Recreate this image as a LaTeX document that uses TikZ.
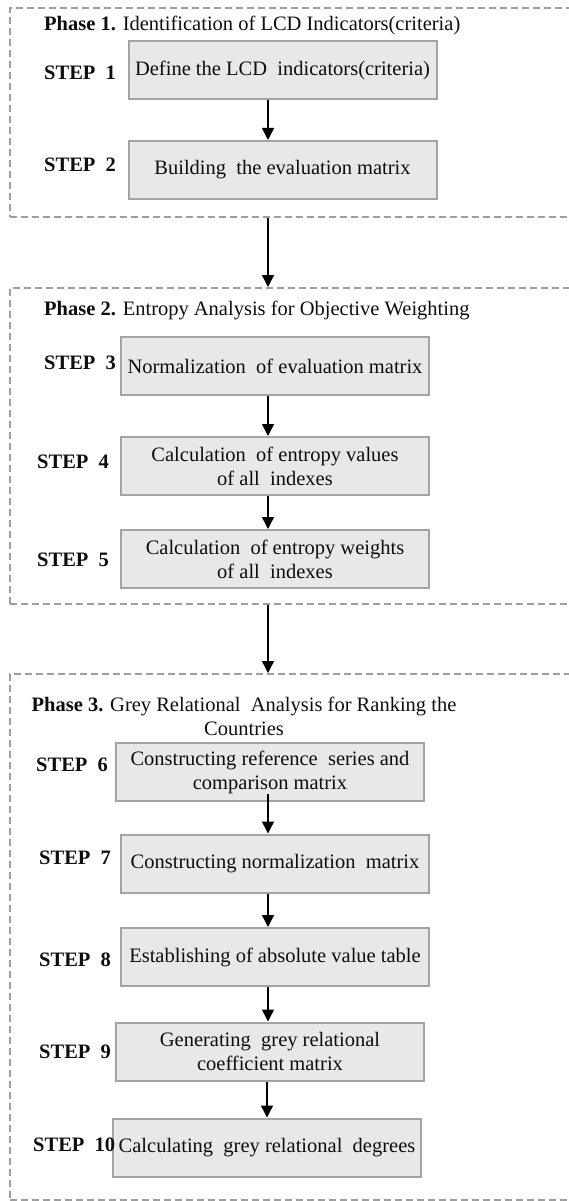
\documentclass[tikz,border=0pt]{standalone}
\usepackage{fontspec}
\setmainfont{Liberation Serif}
\usetikzlibrary{arrows.meta}
\begin{document}
\begin{tikzpicture}[x=1pt,y=-1pt,
  every node/.style={text=black!95, font=\fontsize{20.5}{24}\selectfont},
  phase/.style={draw=black!38, dash pattern=on 7pt off 4pt, line width=1.6pt, anchor=north west, inner sep=0pt, minimum width=650pt},
  stepbox/.style={draw=black!36, line width=2pt, fill=black!9, minimum width=308pt, minimum height=58pt, align=center, inner sep=2pt},
  steplabel/.style={anchor=west, inner sep=0pt, font=\fontsize{20.5}{24}\selectfont\bfseries},
  title/.style={anchor=west, inner sep=0pt},
  arr/.style={-{Triangle[length=12pt,width=12pt]}, line width=1.4pt, black}]
\useasboundingbox (0,0) rectangle (569,1201);
\clip (0,0) rectangle (569,1201);
% phases
\node[phase, minimum height=209pt] (p1) at (9,7) {};
\node[phase, minimum height=316pt] (p2) at (9,287) {};
\node[phase, minimum height=526pt] (p3) at (9,673) {};
% titles
\node[title] (t1) at (44,25) {\textbf{Phase 1.} Identification of LCD Indicators(criteria)};
\node[title] (t2) at (44,310) {\textbf{Phase 2.} Entropy Analysis for Objective Weighting};
\node[align=center, inner sep=0pt] (t3) at (244,716.5) {\textbf{Phase 3.} Grey Relational\ \ Analysis for Ranking the\\Countries};
% steps
\node[stepbox] (s1) at (282.5,70.5) {Define the LCD\ \ indicators(criteria)};
\node[stepbox] (s2) at (282.5,170) {Building\ \ the evaluation matrix};
\node[stepbox] (s3) at (275,366) {Normalization\ \ of evaluation matrix};
\node[stepbox] (s4) at (275,466) {Calculation\ \ of entropy values\\of all\ \ indexes};
\node[stepbox] (s5) at (275,559) {Calculation\ \ of entropy weights\\of all\ \ indexes};
\node[stepbox] (s6) at (270,772) {Constructing reference\ \ series and\\comparison matrix};
\node[stepbox] (s7) at (275,863.5) {Constructing normalization\ \ matrix};
\node[stepbox] (s8) at (275,957) {Establishing of absolute value table};
\node[stepbox] (s9) at (270,1051.5) {Generating\ \ grey relational\\coefficient matrix};
\node[stepbox] (s10) at (267,1147.5) {Calculating\ \ grey relational\ \ degrees};
% step labels
\node[steplabel] (l1) at (44,73) {STEP\ \ 1};
\node[steplabel] (l2) at (44,165) {STEP\ \ 2};
\node[steplabel] (l3) at (44,363) {STEP\ \ 3};
\node[steplabel] (l4) at (37,462) {STEP\ \ 4};
\node[steplabel] (l5) at (37,560) {STEP\ \ 5};
\node[steplabel] (l6) at (36,765) {STEP\ \ 6};
\node[steplabel] (l7) at (39,858) {STEP\ \ 7};
\node[steplabel] (l8) at (39,960) {STEP\ \ 8};
\node[steplabel] (l9) at (39,1052) {STEP\ \ 9};
\node[steplabel] (l10) at (33,1145) {STEP\ \ 10};
% arrows
\coordinate (ax) at (268,0);
\coordinate (bx) at (267,0);
\draw[arr] (s1.south -| ax) -- (s2.north -| ax);
\draw[arr] (p1.south -| ax) -- (p2.north -| ax);
\draw[arr] (s3.south -| ax) -- (s4.north -| ax);
\draw[arr] (s4.south -| ax) -- (s5.north -| ax);
\draw[arr] (p2.south -| ax) -- (p3.north -| ax);
\draw[arr] ([yshift=8pt]s6.south -| ax) -- (s7.north -| ax);
\draw[arr] (s7.south -| ax) -- (s8.north -| ax);
\draw[arr] (s8.south -| ax) -- (s9.north -| ax);
\draw[arr] (s9.south -| bx) -- (s10.north -| bx);
\end{tikzpicture}
\end{document}
